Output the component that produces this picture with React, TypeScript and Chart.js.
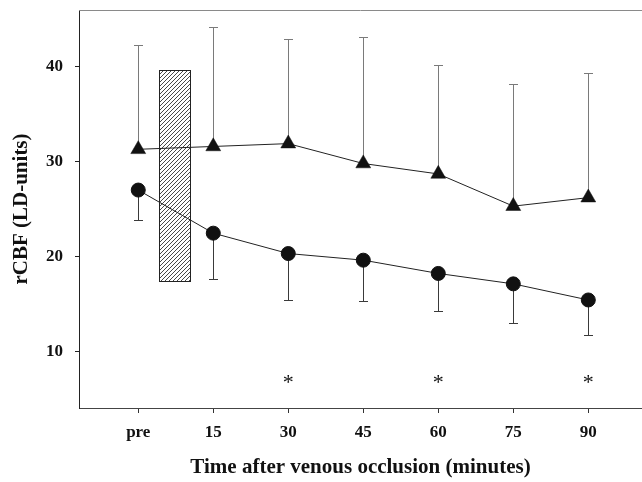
import React, { useEffect, useRef } from "react";
import { Chart, registerables } from "chart.js";

Chart.register(...registerables);

// ---- data ----
const categories = ["pre", "15", "30", "45", "60", "75", "90"];
const xPositions = [0, 1, 2, 3, 4, 5, 6];
const triangleMean = [31.3, 31.6, 31.9, 29.8, 28.7, 25.3, 26.2];
const triangleUpper = [42.3, 44.2, 42.9, 43.2, 40.2, 38.2, 39.4];
const circleMean = [27.0, 22.45, 20.3, 19.6, 18.2, 17.1, 15.4];
const circleLower = [23.8, 17.65, 15.4, 15.3, 14.2, 13.0, 11.7];
const yTicks = [10, 20, 30, 40];
const occlusionX = [0.28, 0.69];
const occlusionY = [17.4, 39.65];
const significantAt = [2, 4, 6];
const asteriskY = [7.1, 7.1, 7.1];

const SERIF = '"Liberation Serif", "Times New Roman", serif';

const overlayPlugin = {
  id: "overlay",
  beforeDatasetsDraw(chart: any) {
    const { ctx, chartArea, scales } = chart;
    const xs = scales.x;
    const ys = scales.y;
    ctx.save();
    // top frame line
    ctx.strokeStyle = "#8a8a8a";
    ctx.lineWidth = 1;
    ctx.beginPath();
    ctx.moveTo(chartArea.left, chartArea.top + 0.5);
    ctx.lineTo(chartArea.right, chartArea.top + 0.5);
    ctx.stroke();

    // hatched occlusion box
    const x0 = Math.round(xs.getPixelForValue(occlusionX[0])) + 0.5;
    const x1 = Math.round(xs.getPixelForValue(occlusionX[1])) + 0.5;
    const y0 = Math.round(ys.getPixelForValue(occlusionY[1])) + 0.5;
    const y1 = Math.round(ys.getPixelForValue(occlusionY[0])) + 0.5;
    const w = x1 - x0;
    const h = y1 - y0;
    ctx.save();
    ctx.beginPath();
    ctx.rect(x0, y0, w, h);
    ctx.clip();
    ctx.fillStyle = "#fff";
    ctx.fillRect(x0, y0, w, h);
    ctx.strokeStyle = "#333";
    ctx.lineWidth = 0.9;
    ctx.beginPath();
    for (let k = -h; k < w + h; k += 4) {
      ctx.moveTo(x0 + k, y1);
      ctx.lineTo(x0 + k + h, y0);
    }
    ctx.stroke();
    ctx.restore();
    ctx.strokeStyle = "#222";
    ctx.lineWidth = 1;
    ctx.strokeRect(x0, y0, w, h);

    // error bars
    const drawBar = (xv: number, from: number, to: number, color: string) => {
      const px = Math.round(xs.getPixelForValue(xv)) + 0.5;
      const pa = ys.getPixelForValue(from);
      const pb = Math.round(ys.getPixelForValue(to)) + 0.5;
      ctx.strokeStyle = color;
      ctx.lineWidth = 1;
      ctx.beginPath();
      ctx.moveTo(px, pa);
      ctx.lineTo(px, pb);
      ctx.moveTo(px - 4.5, pb);
      ctx.lineTo(px + 4.5, pb);
      ctx.stroke();
    };
    xPositions.forEach((xv, i) => {
      drawBar(xv, triangleMean[i], triangleUpper[i], "#7a7a7a");
      drawBar(xv, circleMean[i], circleLower[i], "#3a3a3a");
    });
    ctx.restore();
  },
  afterDatasetsDraw(chart: any) {
    const { ctx, scales } = chart;
    ctx.save();
    ctx.fillStyle = "#111";
    ctx.font = `22px ${SERIF}`;
    ctx.textAlign = "center";
    ctx.textBaseline = "alphabetic";
    significantAt.forEach((xv, i) => {
      const px = scales.x.getPixelForValue(xv);
      const py = scales.y.getPixelForValue(asteriskY[i]);
      const m = ctx.measureText("*");
      const off = (m.actualBoundingBoxAscent - m.actualBoundingBoxDescent) / 2;
      ctx.fillText("*", px, py + off);
    });
    ctx.restore();
  },
};

export default function App() {
  const ref = useRef<HTMLCanvasElement>(null);

  useEffect(() => {
    const tickFont = { family: SERIF, size: 17, weight: "bold" as const };
    const titleFont = { family: SERIF, size: 21, weight: "bold" as const };
    const chart = new Chart(ref.current!, {
      type: "scatter",
      data: {
        datasets: [
          {
            label: "triangle",
            data: xPositions.map((x, i) => ({ x, y: triangleMean[i] })),
            showLine: true,
            borderColor: "#222",
            borderWidth: 1,
            pointStyle: "triangle",
            pointRadius: 8.6,
            pointBackgroundColor: "#111",
            pointBorderColor: "#111",
            pointBorderWidth: 0.5,
          },
          {
            label: "circle",
            data: xPositions.map((x, i) => ({ x, y: circleMean[i] })),
            showLine: true,
            borderColor: "#222",
            borderWidth: 1,
            pointStyle: "circle",
            pointRadius: 7,
            pointBackgroundColor: "#111",
            pointBorderColor: "#111",
            pointBorderWidth: 1,
          },
        ],
      },
      options: {
        animation: false,
        responsive: false,
        devicePixelRatio: 1,
        layout: { autoPadding: false, padding: { top: 10, left: 0, right: 0, bottom: 0 } },
        plugins: { legend: { display: false }, tooltip: { enabled: false } },
        scales: {
          x: {
            type: "linear",
            min: -0.79,
            max: 6.716,
            afterBuildTicks: (s: any) => {
              s.ticks = xPositions.map((v) => ({ value: v }));
            },
            afterFit: (s: any) => {
              s.height = 74;
              s.paddingLeft = 0;
              s.paddingRight = 0;
            },
            ticks: {
              callback: (v: any) => {
                const idx = xPositions.indexOf(Number(v));
                return idx >= 0 ? categories[idx] : "";
              },
              font: tickFont,
              color: "#111",
              padding: 9,
              maxRotation: 0,
              autoSkip: false,
            },
            grid: { drawOnChartArea: false, drawTicks: true, tickLength: 5, color: "#333" },
            border: { display: true, color: "#444", width: 1 },
            title: {
              display: true,
              text: "Time after venous occlusion (minutes)",
              font: titleFont,
              color: "#111",
              padding: { top: 0, bottom: 2 },
            },
          },
          y: {
            type: "linear",
            min: 4,
            max: 46,
            afterBuildTicks: (s: any) => {
              s.ticks = yTicks.map((v) => ({ value: v }));
            },
            afterFit: (s: any) => {
              s.width = 79;
              s.paddingTop = 0;
              s.paddingBottom = 0;
            },
            ticks: { font: tickFont, color: "#111", padding: 12 },
            grid: { drawOnChartArea: false, drawTicks: true, tickLength: 4, color: "#222" },
            border: { display: true, color: "#222", width: 1 },
            title: {
              display: true,
              text: "rCBF (LD-units)",
              font: titleFont,
              color: "#111",
              padding: { top: 9, bottom: 0 },
            },
          },
        },
      },
      plugins: [overlayPlugin],
    } as any);
    return () => chart.destroy();
  }, []);

  return (
    <div style={{ position: "fixed", left: 0, top: 0, width: 642, height: 482, background: "#fff" }}>
      <canvas ref={ref} width={642} height={482} style={{ display: "block", width: 642, height: 482 }} />
    </div>
  );
}
